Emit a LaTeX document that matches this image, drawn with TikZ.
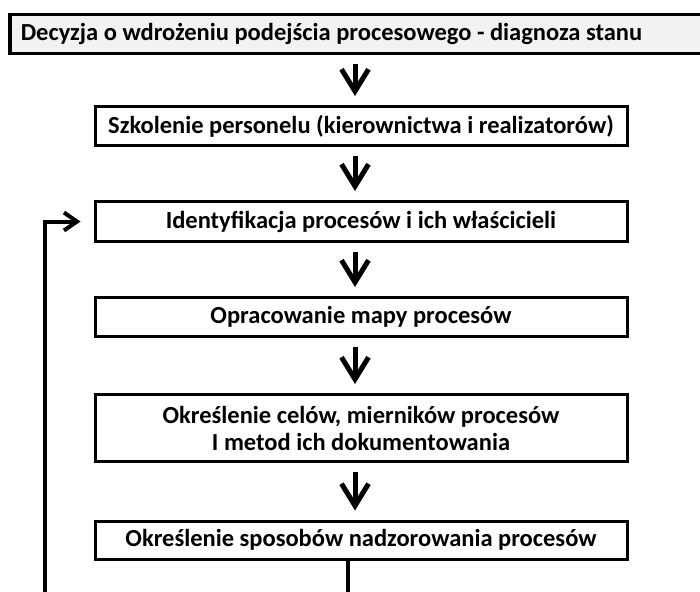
\documentclass[tikz,border=0pt]{standalone}
\usepackage{fontspec}
\setmainfont{Carlito}
\usetikzlibrary{arrows.meta}
\definecolor{headfill}{HTML}{F2F2F2}
\begin{document}
\begin{tikzpicture}[x=1pt,y=-1pt,
  txt/.style={font=\bfseries\fontsize{24.5}{27}\selectfont},
  stepbox/.style={txt, draw=black, line width=3pt, fill=white, inner sep=0pt,
    minimum width=532pt, minimum height=39pt, align=center},
  flow/.style={line width=5pt, shorten <=9pt, shorten >=9pt,
    -{Straight Barb[length=22pt,width=27pt,line width=5pt]}},
  loop/.style={line width=4pt,
    -{Straight Barb[length=13pt,width=18pt,line width=4pt]}},
]
\useasboundingbox (0,0) rectangle (700,591);

% header box, running past the right edge
\node[txt, draw=black, line width=3.5pt, fill=headfill, anchor=north west,
      text width=680pt, align=left, inner xsep=11pt, inner ysep=0pt,
      minimum height=39pt] (b1) at (8,13)
  {\spaceskip=0pt\relax Decyzja o wdrożeniu podejścia procesowego - diagnoza stanu};

\node[stepbox] (b2) at (361,126)
  {Szkolenie personelu (kierownictwa i realizatorów)};
\node[stepbox, minimum height=40pt] (b3) at (361,221.5)
  {Identyfikacja procesów i ich właścicieli};
\node[stepbox] (b4) at (361,317)
  {Opracowanie mapy procesów};
\node[stepbox, minimum height=67pt] (b5) at (361,428)
  {Określenie celów, mierników procesów\\I metod ich dokumentowania};
\node[stepbox, minimum height=38pt] (b6) at (361,540)
  {Określenie sposobów nadzorowania procesów};

% downward flow arrows
\coordinate (ax) at (355,0);
\draw[flow] (b1.south -| ax) -- (b2.north -| ax);
\draw[flow] (b2.south -| ax) -- (b3.north -| ax);
\draw[flow] (b3.south -| ax) -- (b4.north -| ax);
\draw[flow] (b4.south -| ax) -- (b5.north -| ax);
\draw[flow] (b5.south -| ax) -- (b6.north -| ax);

% feedback loop back to process identification
\coordinate (lx) at (348,0);
\coordinate (out) at (348,600);
\coordinate (back) at (45,600);
\draw[line width=4pt] (b6.south -| lx) -- (out);
\draw[loop] (back) |- ([xshift=-13pt]b3.west);
\end{tikzpicture}
\end{document}
